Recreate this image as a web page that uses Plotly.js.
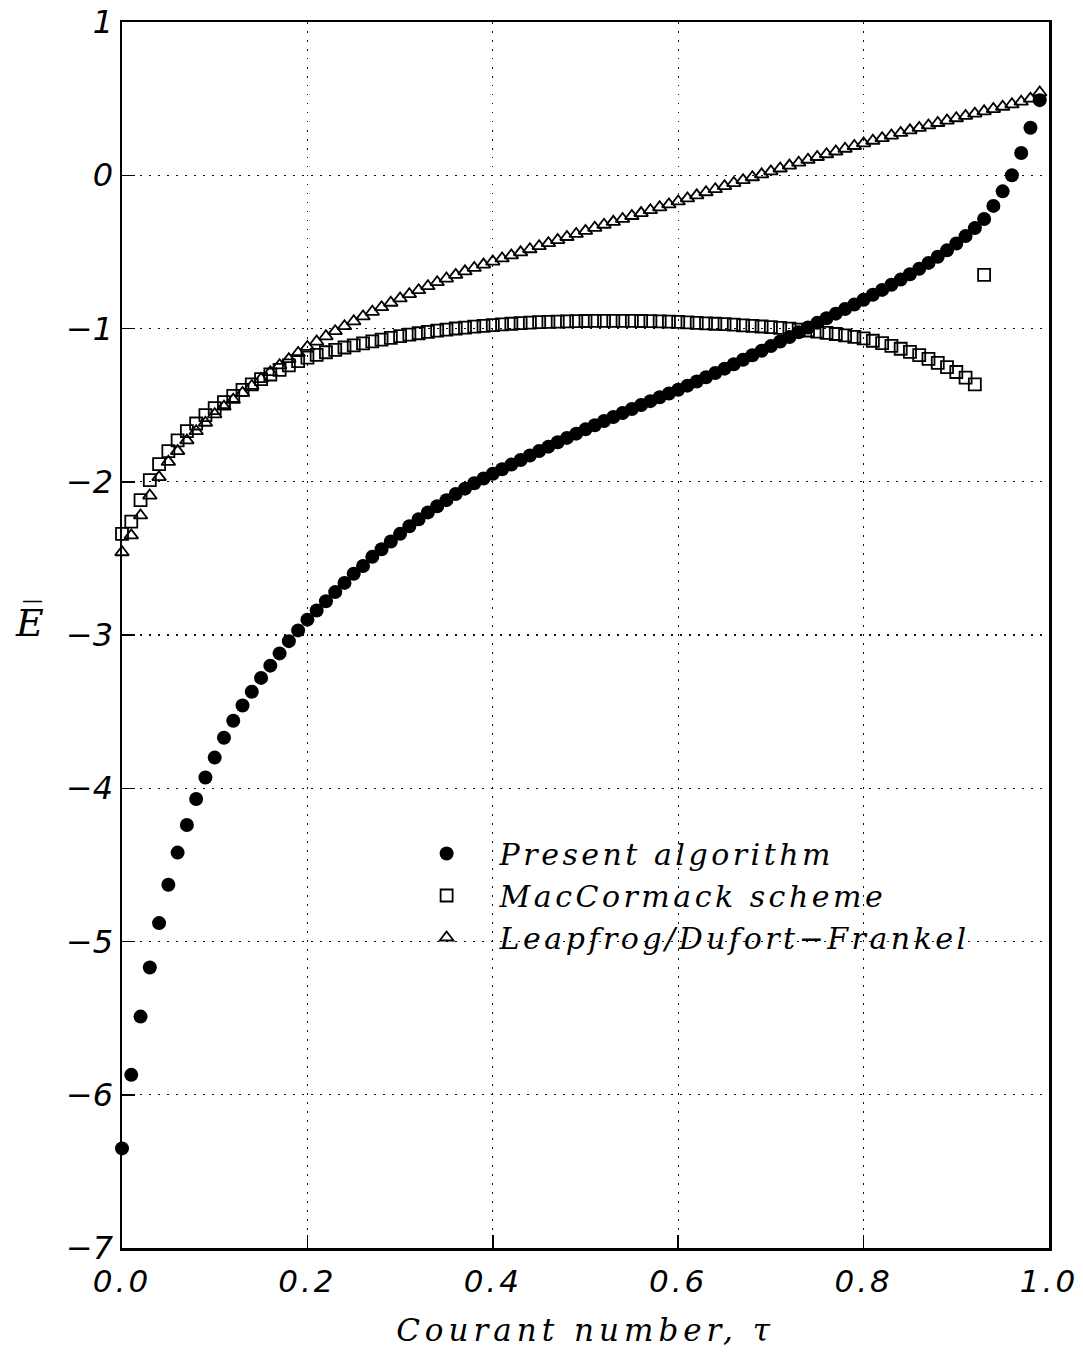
<!DOCTYPE html>
<html>
<head>
<meta charset="utf-8">
<script src="https://cdn.plot.ly/plotly-3.0.1.min.js"></script>
<style>
  html, body { margin: 0; padding: 0; background: #fff; }
  #chart { width: 1083px; height: 1353px; }
  .xtick text { letter-spacing: 3px; }
  .xtitle { letter-spacing: 5px; }
  .legendtext { letter-spacing: 3.5px; }
</style>
</head>
<body>
<div id="chart"></div>
<script>
// Courant number values (tau)
const tau = [
  0.00,0.01,0.02,0.03,0.04,0.05,0.06,0.07,0.08,0.09,
  0.10,0.11,0.12,0.13,0.14,0.15,0.16,0.17,0.18,0.19,
  0.20,0.21,0.22,0.23,0.24,0.25,0.26,0.27,0.28,0.29,
  0.30,0.31,0.32,0.33,0.34,0.35,0.36,0.37,0.38,0.39,
  0.40,0.41,0.42,0.43,0.44,0.45,0.46,0.47,0.48,0.49,
  0.50,0.51,0.52,0.53,0.54,0.55,0.56,0.57,0.58,0.59,
  0.60,0.61,0.62,0.63,0.64,0.65,0.66,0.67,0.68,0.69,
  0.70,0.71,0.72,0.73,0.74,0.75,0.76,0.77,0.78,0.79,
  0.80,0.81,0.82,0.83,0.84,0.85,0.86,0.87,0.88,0.89,
  0.90,0.91,0.92,0.93,0.94,0.95,0.96,0.97,0.98,0.99
];

// Present algorithm (filled circles)
const presentE = [
  -6.35,-5.87,-5.49,-5.17,-4.88,-4.63,-4.42,-4.24,-4.07,-3.93,
  -3.80,-3.67,-3.56,-3.46,-3.37,-3.28,-3.20,-3.12,-3.04,-2.97,
  -2.90,-2.84,-2.78,-2.72,-2.66,-2.60,-2.55,-2.49,-2.44,-2.39,
  -2.34,-2.29,-2.245,-2.20,-2.16,-2.12,-2.08,-2.045,-2.01,-1.979,
  -1.948,-1.918,-1.888,-1.858,-1.829,-1.799,-1.771,-1.742,-1.714,-1.686,
  -1.658,-1.631,-1.604,-1.577,-1.551,-1.525,-1.499,-1.474,-1.449,-1.424,
  -1.400,-1.373,-1.346,-1.318,-1.290,-1.262,-1.233,-1.204,-1.175,-1.145,
  -1.115,-1.085,-1.055,-1.024,-0.993,-0.963,-0.933,-0.903,-0.873,-0.843,
  -0.812,-0.780,-0.748,-0.715,-0.681,-0.646,-0.610,-0.572,-0.532,-0.490,
  -0.445,-0.397,-0.345,-0.285,-0.200,-0.105,0.000,0.145,0.310,0.490
];

// MacCormack scheme (open squares), tau 0.00 .. 0.93
const macTau = [
  0.00,0.01,0.02,0.03,0.04,0.05,0.06,0.07,0.08,0.09,
  0.10,0.11,0.12,0.13,0.14,0.15,0.16,0.17,0.18,0.19,
  0.20,0.21,0.22,0.23,0.24,0.25,0.26,0.27,0.28,0.29,
  0.30,0.31,0.32,0.33,0.34,0.35,0.36,0.37,0.38,0.39,
  0.40,0.41,0.42,0.43,0.44,0.45,0.46,0.47,0.48,0.49,
  0.50,0.51,0.52,0.53,0.54,0.55,0.56,0.57,0.58,0.59,
  0.60,0.61,0.62,0.63,0.64,0.65,0.66,0.67,0.68,0.69,
  0.70,0.71,0.72,0.73,0.74,0.75,0.76,0.77,0.78,0.79,
  0.80,0.81,0.82,0.83,0.84,0.85,0.86,0.87,0.88,0.89,
  0.90,0.91,0.92,0.93
];
const macE = [
  -2.34,-2.26,-2.12,-1.99,-1.885,-1.80,-1.73,-1.67,-1.62,-1.565,
  -1.52,-1.48,-1.44,-1.40,-1.365,-1.33,-1.30,-1.27,-1.24,-1.213,
  -1.19,-1.172,-1.155,-1.139,-1.124,-1.11,-1.097,-1.084,-1.072,-1.061,
  -1.05,-1.04,-1.031,-1.022,-1.014,-1.007,-1.0,-0.994,-0.988,-0.983,
  -0.978,-0.973,-0.969,-0.965,-0.962,-0.959,-0.957,-0.955,-0.953,-0.952,
  -0.951,-0.95,-0.95,-0.95,-0.95,-0.95,-0.951,-0.952,-0.953,-0.955,
  -0.957,-0.96,-0.963,-0.966,-0.969,-0.972,-0.975,-0.979,-0.983,-0.987,
  -0.991,-0.996,-1.001,-1.007,-1.013,-1.02,-1.028,-1.036,-1.045,-1.055,
  -1.065,-1.08,-1.096,-1.113,-1.132,-1.152,-1.174,-1.198,-1.224,-1.252,
  -1.284,-1.32,-1.365,-0.65
];

// Leapfrog/Dufort-Frankel (open triangles)
const leapE = [
  -2.46,-2.35,-2.22,-2.09,-1.97,-1.87,-1.80,-1.73,-1.67,-1.615,
  -1.56,-1.51,-1.465,-1.42,-1.375,-1.33,-1.285,-1.24,-1.20,-1.16,
  -1.12,-1.085,-1.051,-1.017,-0.985,-0.953,-0.921,-0.891,-0.861,-0.832,
  -0.804,-0.776,-0.750,-0.724,-0.698,-0.674,-0.650,-0.627,-0.605,-0.583,
  -0.563,-0.543,-0.523,-0.503,-0.483,-0.463,-0.443,-0.423,-0.403,-0.383,
  -0.363,-0.343,-0.323,-0.304,-0.285,-0.266,-0.247,-0.228,-0.209,-0.190,
  -0.171,-0.151,-0.131,-0.111,-0.091,-0.071,-0.051,-0.032,-0.013,0.006,
  0.025,0.044,0.063,0.082,0.101,0.119,0.137,0.155,0.173,0.191,
  0.208,0.225,0.242,0.259,0.276,0.293,0.309,0.325,0.341,0.357,
  0.372,0.387,0.402,0.417,0.432,0.447,0.463,0.480,0.500,0.540
];

const seriesNames = ['Present algorithm', 'MacCormack scheme', 'Leapfrog/Dufort\u2212Frankel'];
const xTickVals = [0.0, 0.2, 0.4, 0.6, 0.8, 1.0];
const xTickText = ['0.0', '0.2', '0.4', '0.6', '0.8', '1.0'];
const xTitle = 'Courant number, \u03c4';
const yTitle = 'E\u0305';

const traces = [
  {
    x: tau, y: presentE, name: seriesNames[0], type: 'scatter', mode: 'markers',
    cliponaxis: false,
    marker: { symbol: 'circle', size: 14, color: '#000', line: { width: 0 } }
  },
  {
    x: macTau, y: macE, name: seriesNames[1], type: 'scatter', mode: 'markers',
    cliponaxis: false,
    marker: { symbol: 'square-open', size: 12, color: '#000', line: { width: 1.8, color: '#000' } }
  },
  {
    x: tau, y: leapE, name: seriesNames[2], type: 'scatter', mode: 'markers',
    cliponaxis: false,
    marker: { symbol: 'triangle-up-open', size: 12, color: '#000', line: { width: 1.8, color: '#000' } }
  }
];

const yTickFont = { family: 'DejaVu Sans', size: 32, color: '#000', style: 'italic' };
const xTickFont = { family: 'DejaVu Sans', size: 31, color: '#000', style: 'italic' };
const titleFont = { family: 'DejaVu Serif', size: 31, color: '#000', style: 'italic' };

const axisCommon = {
  showline: true, linewidth: 2.5, linecolor: '#000', mirror: true,
  ticks: 'inside', ticklen: 13, tickwidth: 1.5, tickcolor: '#000',
  showgrid: true, gridcolor: '#111', gridwidth: 1.4, griddash: '1.5px,7.5px',
  zeroline: false, automargin: false,
  ticklabeloverflow: 'allow'
};

const layout = {
  width: 1083, height: 1353,
  margin: { l: 122, r: 34, t: 22, b: 105 },
  paper_bgcolor: '#fff', plot_bgcolor: '#fff',
  showlegend: true,
  legend: {
    x: 0.293, y: 0.343, xanchor: 'left', yanchor: 'top',
    bgcolor: 'rgba(0,0,0,0)', borderwidth: 0,
    itemwidth: 96,
    font: { family: 'DejaVu Serif', size: 30, color: '#000', style: 'italic' }
  },
  xaxis: Object.assign({}, axisCommon, {
    range: [0, 1], tickmode: 'array', tickvals: xTickVals, ticktext: xTickText,
    tickfont: xTickFont,
    ticklabelstandoff: 4,
    title: { text: xTitle, font: titleFont, standoff: 22 }
  }),
  yaxis: Object.assign({}, axisCommon, {
    range: [-7, 1], tick0: 0, dtick: 1,
    tickfont: yTickFont,
    ticklabelstandoff: 0
  }),
  annotations: [
    {
      text: yTitle, xref: 'paper', yref: 'y', x: -0.1, y: -2.92,
      showarrow: false, xanchor: 'center', yanchor: 'middle',
      font: { family: 'DejaVu Serif', size: 38, color: '#000', style: 'italic' }
    }
  ]
};

Plotly.newPlot('chart', traces, layout, { staticPlot: true, displayModeBar: false });
</script>
</body>
</html>
